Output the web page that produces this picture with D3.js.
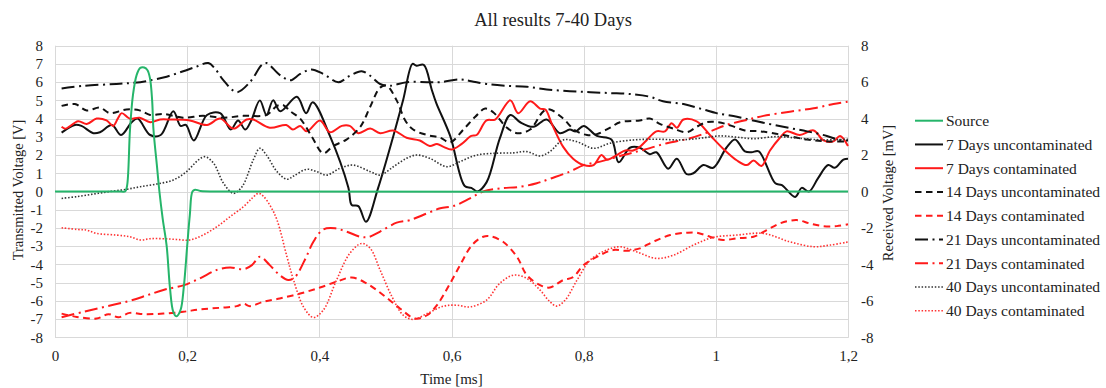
<!DOCTYPE html>
<html>
<head>
<meta charset="utf-8">
<script src="https://cdn.jsdelivr.net/npm/d3@7/dist/d3.min.js"></script>
<style>
  html, body { margin: 0; padding: 0; background: #fff; }
  svg { display: block; }
  svg text { font-family: "Liberation Serif", "Times New Roman", serif !important; fill: #222; }
</style>
</head>
<body>
<svg id="chart" width="1106" height="388"></svg>
<script>
// Time axis [ms] and voltage readings for each curing age.
const source = [[0,0],[0.1,0],[0.106,0],[0.109,0.3],[0.1135,3.4],[0.118,5.3],[0.1236,6.4],[0.129,6.78],[0.135,6.8],[0.14,6.65],[0.1438,6.2],[0.147,5],[0.149,3.4],[0.154,1.5],[0.158,0],[0.163,-1.5],[0.169,-3],[0.174,-5.3],[0.179,-6.6],[0.184,-6.85],[0.19,-6.5],[0.195,-5.2],[0.2,-3],[0.204,-1.3],[0.208,0],[0.212,0.1],[0.22,0.03],[0.26,0],[1.2,0]];

const unc7 = [[0.01,3.23],[0.03,3.65],[0.04,3.6],[0.058,3.2],[0.068,3.25],[0.086,3.65],[0.1,3.1],[0.116,3.8],[0.125,4.0],[0.144,3.1],[0.16,3.1],[0.179,4.4],[0.19,3.6],[0.198,3.65],[0.21,2.8],[0.23,4.2],[0.25,4.3],[0.266,3.4],[0.277,3.9],[0.288,3.4],[0.297,3.9],[0.31,5.0],[0.32,4.2],[0.33,5.0],[0.341,4.4],[0.366,5.2],[0.38,4.3],[0.39,4.9],[0.416,3.05],[0.444,0.2],[0.449,-0.74],[0.459,-0.8],[0.4706,-1.66],[0.489,0.2],[0.512,3.05],[0.527,5.05],[0.541,7.0],[0.547,6.9],[0.558,6.95],[0.57,5.6],[0.577,4.85],[0.598,3.05],[0.62,0.3],[0.63,0.2],[0.639,0.0],[0.653,0.5],[0.673,2.9],[0.689,4.2],[0.704,3.8],[0.724,3.55],[0.744,3.95],[0.764,3.2],[0.779,3.4],[0.788,3.3],[0.8,3.6],[0.82,3.05],[0.842,2.85],[0.853,1.6],[0.87,2.4],[0.885,2.4],[0.9,2.05],[0.91,2.15],[0.928,1.25],[0.941,1.8],[0.956,0.95],[0.966,1.0],[0.981,1.45],[0.996,1.3],[1.016,2.4],[1.029,2.85],[1.044,2.2],[1.054,2.15],[1.065,2.2],[1.09,0.45],[1.1,0.35],[1.12,-0.3],[1.13,0.2],[1.141,0.0],[1.155,0.75],[1.17,1.45],[1.18,1.3],[1.193,1.75],[1.2,1.8]];

const con7 = [[0.01,3.55],[0.016,3.45],[0.035,3.85],[0.048,3.7],[0.063,4.0],[0.078,3.9],[0.088,3.6],[0.095,4.0],[0.101,4.3],[0.113,4.0],[0.128,4.05],[0.144,3.8],[0.159,3.95],[0.174,3.95],[0.204,3.9],[0.23,3.65],[0.25,4.0],[0.27,3.45],[0.29,3.95],[0.3,3.95],[0.325,3.5],[0.35,3.65],[0.36,3.4],[0.371,3.6],[0.381,3.3],[0.401,3.9],[0.416,3.25],[0.434,3.6],[0.446,3.6],[0.459,3.2],[0.477,3.45],[0.492,3.2],[0.512,3.35],[0.532,2.95],[0.552,2.8],[0.567,2.5],[0.578,2.6],[0.588,2.45],[0.6,2.3],[0.615,2.6],[0.63,3.05],[0.638,3.1],[0.653,3.9],[0.666,3.95],[0.689,5.0],[0.701,4.3],[0.719,4.95],[0.734,4.55],[0.742,4.5],[0.752,3.7],[0.769,2.45],[0.784,1.8],[0.8,1.45],[0.815,1.45],[0.827,2.0],[0.835,1.75],[0.85,2.0],[0.863,2.25],[0.875,2.25],[0.885,2.45],[0.895,2.8],[0.91,3.3],[0.923,3.3],[0.933,3.75],[0.941,3.5],[0.951,3.95],[0.971,3.85],[0.991,3.1],[1.011,2.35],[1.032,1.7],[1.047,1.45],[1.057,1.7],[1.069,1.4],[1.082,2.25],[1.097,2.95],[1.107,3.3],[1.127,3.1],[1.148,3.35],[1.163,2.8],[1.178,2.75],[1.188,3.05],[1.2,2.5]];

const unc14 = [[0.01,4.7],[0.03,4.8],[0.048,4.45],[0.068,4.6],[0.083,4.3],[0.108,4.5],[0.128,4.45],[0.144,4.2],[0.164,4.25],[0.194,4.05],[0.224,4.15],[0.255,4.05],[0.285,4.15],[0.32,4.2],[0.336,4.7],[0.345,4.75],[0.356,4.4],[0.371,4.0],[0.388,3.05],[0.406,2.1],[0.421,2.5],[0.441,2.85],[0.462,3.55],[0.477,4.65],[0.492,5.7],[0.502,5.8],[0.517,5.0],[0.53,3.9],[0.542,3.4],[0.563,3.1],[0.583,2.95],[0.598,2.7],[0.618,3.4],[0.636,4.1],[0.651,4.55],[0.663,4.35],[0.684,3.5],[0.699,3.2],[0.719,3.4],[0.739,4.4],[0.749,4.5],[0.769,4.0],[0.787,3.35],[0.805,3.1],[0.82,3.15],[0.84,3.5],[0.855,3.8],[0.885,3.9],[0.9,4.0],[0.916,3.7],[0.936,3.45],[0.956,3.25],[0.971,3.55],[0.986,3.8],[1.004,3.8],[1.024,3.6],[1.044,3.35],[1.067,3.3],[1.102,3.1],[1.138,2.85],[1.168,2.75],[1.2,2.75]];

const con14 = [[0.01,-6.7],[0.033,-6.88],[0.063,-6.97],[0.081,-6.73],[0.096,-6.9],[0.113,-6.66],[0.134,-6.73],[0.164,-6.7],[0.194,-6.6],[0.219,-6.47],[0.25,-6.38],[0.275,-6.29],[0.285,-6.15],[0.295,-6.29],[0.315,-6.05],[0.34,-5.87],[0.371,-5.6],[0.401,-5.27],[0.426,-4.95],[0.449,-4.72],[0.472,-5.05],[0.497,-5.69],[0.522,-6.42],[0.545,-6.97],[0.563,-6.79],[0.578,-6.24],[0.595,-5.23],[0.613,-4.04],[0.631,-2.94],[0.648,-2.48],[0.658,-2.45],[0.678,-2.76],[0.699,-3.58],[0.714,-4.59],[0.734,-5.14],[0.749,-5.27],[0.769,-4.86],[0.784,-4.7],[0.8,-4.04],[0.825,-3.49],[0.845,-3.21],[0.865,-3.25],[0.885,-3.12],[0.905,-2.76],[0.931,-2.39],[0.956,-2.26],[0.971,-2.26],[0.991,-2.48],[1.011,-2.66],[1.032,-2.57],[1.057,-2.48],[1.077,-2.12],[1.097,-1.75],[1.122,-1.57],[1.142,-1.75],[1.162,-1.9],[1.183,-1.9],[1.2,-1.8]];

const unc21 = [[0.01,5.65],[0.043,5.8],[0.093,5.9],[0.129,6.0],[0.144,6.1],[0.169,6.3],[0.194,6.6],[0.214,6.85],[0.232,7.05],[0.242,6.75],[0.255,6.1],[0.275,5.45],[0.295,6.0],[0.313,6.95],[0.32,7.05],[0.34,6.4],[0.356,6.1],[0.371,6.45],[0.388,6.7],[0.406,6.45],[0.429,6.0],[0.446,6.35],[0.464,6.6],[0.477,6.35],[0.492,5.9],[0.507,5.8],[0.532,6.0],[0.563,6.0],[0.583,6.0],[0.613,6.15],[0.63,6.05],[0.653,5.9],[0.684,5.8],[0.714,5.75],[0.744,5.6],[0.779,5.5],[0.81,5.45],[0.84,5.4],[0.87,5.35],[0.9,5.2],[0.92,4.95],[0.951,4.8],[0.981,4.5],[1.001,4.3],[1.032,4.1],[1.062,3.85],[1.102,3.55],[1.138,3.3],[1.168,3.05],[1.185,2.85],[1.2,2.8]];

const con21 = [[0.01,-6.9],[0.043,-6.6],[0.078,-6.3],[0.113,-6.0],[0.139,-5.7],[0.164,-5.4],[0.194,-5.15],[0.219,-4.77],[0.245,-4.3],[0.265,-4.17],[0.285,-4.27],[0.298,-4.04],[0.31,-3.58],[0.325,-4.04],[0.34,-4.59],[0.353,-4.86],[0.363,-4.7],[0.378,-3.76],[0.391,-2.76],[0.406,-2.08],[0.424,-2.02],[0.441,-2.2],[0.462,-2.48],[0.474,-2.5],[0.492,-2.2],[0.517,-1.71],[0.537,-1.57],[0.563,-1.2],[0.583,-0.92],[0.603,-0.8],[0.628,-0.38],[0.648,0.0],[0.673,0.17],[0.704,0.26],[0.729,0.45],[0.749,0.7],[0.779,1.09],[0.8,1.45],[0.825,1.64],[0.86,2.0],[0.89,2.28],[0.926,2.65],[0.961,2.92],[0.991,3.29],[1.016,3.65],[1.047,3.93],[1.072,4.15],[1.112,4.38],[1.148,4.57],[1.178,4.8],[1.2,4.93]];

const unc40 = [[0.01,-0.38],[0.033,-0.28],[0.058,-0.14],[0.083,0.0],[0.108,0.12],[0.129,0.26],[0.154,0.41],[0.179,0.63],[0.199,1.09],[0.217,1.73],[0.227,1.91],[0.24,1.55],[0.255,0.45],[0.27,-0.1],[0.283,0.26],[0.3,1.73],[0.31,2.37],[0.32,2.0],[0.336,1.09],[0.351,0.67],[0.361,0.85],[0.381,1.22],[0.396,1.09],[0.411,0.9],[0.431,1.27],[0.451,1.45],[0.477,1.09],[0.492,0.9],[0.512,1.36],[0.532,1.82],[0.547,2.0],[0.567,1.82],[0.593,1.36],[0.613,1.64],[0.638,2.0],[0.668,2.1],[0.694,2.12],[0.714,2.19],[0.734,1.95],[0.749,2.19],[0.769,2.83],[0.789,2.74],[0.815,2.37],[0.84,2.65],[0.875,2.83],[0.91,2.87],[0.946,2.83],[0.976,2.92],[1.006,3.05],[1.032,2.98],[1.057,2.9],[1.092,3.01],[1.127,2.92],[1.162,2.83],[1.2,2.87]];

const con40 = [[0.01,-1.99],[0.033,-2.08],[0.048,-2.12],[0.063,-2.3],[0.093,-2.39],[0.113,-2.48],[0.129,-2.66],[0.144,-2.59],[0.164,-2.59],[0.184,-2.63],[0.204,-2.66],[0.224,-2.39],[0.245,-1.93],[0.265,-1.38],[0.285,-0.84],[0.298,-0.38],[0.308,-0.1],[0.315,-0.25],[0.326,-0.8],[0.336,-1.57],[0.351,-3.58],[0.361,-4.86],[0.376,-6.33],[0.391,-6.91],[0.406,-6.51],[0.426,-4.86],[0.446,-3.4],[0.464,-2.85],[0.477,-3.12],[0.492,-4.31],[0.51,-5.78],[0.527,-6.79],[0.542,-7.02],[0.563,-6.7],[0.588,-6.29],[0.608,-6.24],[0.628,-6.33],[0.653,-5.96],[0.673,-5.04],[0.694,-4.59],[0.714,-4.77],[0.734,-5.41],[0.749,-6.05],[0.759,-6.29],[0.772,-5.96],[0.79,-4.86],[0.81,-3.76],[0.835,-3.21],[0.855,-3.03],[0.88,-3.31],[0.91,-3.67],[0.936,-3.49],[0.966,-2.94],[0.996,-2.52],[1.032,-2.39],[1.072,-2.3],[1.112,-2.76],[1.148,-3.03],[1.173,-2.94],[1.2,-2.77]];

const xTicks = [0, 0.2, 0.4, 0.6, 0.8, 1, 1.2];
const yLeftTicks = d3.range(-8, 9, 1);
const yRightTicks = d3.range(-8, 9, 2);

const seriesNames = ["Source", "7 Days uncontaminated", "7 Days contaminated",
  "14 Days uncontaminated", "14 Days contaminated", "21 Days uncontaminated",
  "21 Days contaminated", "40 Days uncontaminated", "40 Days contaminated"];
const seriesData = [source, unc7, con7, unc14, con14, unc21, con21, unc40, con40];

// Line styles: solid, dashed, dash-dot, dotted
const GREEN = "#25b56a", BLACK = "#111", RED = "#ff1a1a";
const styles = [
  { color: GREEN, width: 2, dash: null },
  { color: BLACK, width: 2, dash: null },
  { color: RED, width: 2, dash: null },
  { color: BLACK, width: 2, dash: "6.5,4.5" },
  { color: RED, width: 2, dash: "6.5,4.5" },
  { color: BLACK, width: 2, dash: "13,4.5,2,4.5" },
  { color: RED, width: 2, dash: "13,4.5,2,4.5" },
  { color: "#333", width: 1.6, dash: "1.5,1.8" },
  { color: "#ff3333", width: 1.6, dash: "1.5,1.8" }
];

const svg = d3.select("#chart");
const plotLeft = 55, plotRight = 848, plotTop = 45.7, plotBottom = 337.3;

const x = d3.scaleLinear().domain([0, 1.2]).range([plotLeft, plotRight]);
const y = d3.scaleLinear().domain([-8, 8]).range([plotBottom, plotTop]);   // Transmitted voltage [V]
const y2 = d3.scaleLinear().domain([-8, 8]).range([plotBottom, plotTop]);  // Received voltage [mV]

const fmtComma = d => String(+d.toFixed(1)).replace(".", ",");

// Gridlines
const grid = svg.append("g").attr("stroke", "#d9d9d9").attr("stroke-width", 1);
grid.selectAll("line.h").data(yLeftTicks).join("line")
  .attr("x1", plotLeft).attr("x2", plotRight)
  .attr("y1", d => Math.round(y(d)) + 0.5).attr("y2", d => Math.round(y(d)) + 0.5);
grid.selectAll("line.v").data(xTicks).join("line")
  .attr("y1", plotTop).attr("y2", plotBottom)
  .attr("x1", d => Math.round(x(d)) + 0.5).attr("x2", d => Math.round(x(d)) + 0.5);

// Axes
const gL = svg.append("g").attr("transform", `translate(${plotLeft},0)`)
  .call(d3.axisLeft(y).tickValues(yLeftTicks).tickSize(0).tickPadding(12).tickFormat(d => String(d)));
const gR = svg.append("g").attr("transform", `translate(${plotRight},0)`)
  .call(d3.axisRight(y2).tickValues(yRightTicks).tickSize(0).tickPadding(13).tickFormat(d => String(d)));
const gB = svg.append("g").attr("transform", `translate(0,${plotBottom})`)
  .call(d3.axisBottom(x).tickValues(xTicks).tickSize(0).tickPadding(13).tickFormat(fmtComma));
[gL, gR, gB].forEach(g => {
  g.attr("font-family", null).attr("font-size", 15);
  g.select(".domain").attr("stroke", "#d9d9d9");
  g.selectAll("text").attr("font-size", 15);
});
gB.select(".domain").remove();

// Series
const plot = svg.append("g");
const drawOrder = [1, 2, 3, 4, 5, 6, 7, 8, 0];
drawOrder.forEach(i => {
  const s = styles[i];
  const yScale = i === 0 ? y : y2;
  const ln = d3.line().x(d => x(d[0])).y(d => yScale(d[1])).curve(d3.curveCatmullRom.alpha(0.5));
  plot.append("path").datum(seriesData[i])
    .attr("fill", "none").attr("stroke", s.color).attr("stroke-width", s.width)
    .attr("stroke-dasharray", s.dash).attr("stroke-linejoin", "round")
    .attr("d", ln);
});

// Titles
svg.append("text").attr("x", 553).attr("y", 20).attr("text-anchor", "middle")
  .attr("dominant-baseline", "central").attr("font-size", 18.5)
  .text("All results 7-40 Days");
svg.append("text").attr("x", (plotLeft + plotRight) / 2).attr("y", 379).attr("text-anchor", "middle")
  .attr("dominant-baseline", "central").attr("font-size", 15)
  .text("Time [ms]");
svg.append("text").attr("transform", "translate(18,190) rotate(-90)").attr("text-anchor", "middle")
  .attr("dominant-baseline", "central").attr("font-size", 14.5)
  .text("Transmitted Voltage [V]");
svg.append("text").attr("transform", "translate(888,193) rotate(-90)").attr("text-anchor", "middle")
  .attr("dominant-baseline", "central").attr("font-size", 14.5)
  .text("Received Voltage [mV]");

// Legend
const legend = svg.append("g");
seriesNames.forEach((name, i) => {
  const s = styles[i];
  const ly = 120.7 + i * 23.75;
  legend.append("line").attr("x1", 915).attr("x2", 943).attr("y1", ly).attr("y2", ly)
    .attr("stroke", s.color).attr("stroke-width", s.width).attr("stroke-dasharray", s.dash);
  legend.append("text").attr("x", 946).attr("y", ly).attr("dominant-baseline", "central")
    .attr("font-size", 15.5).text(name);
});
</script>
</body>
</html>
